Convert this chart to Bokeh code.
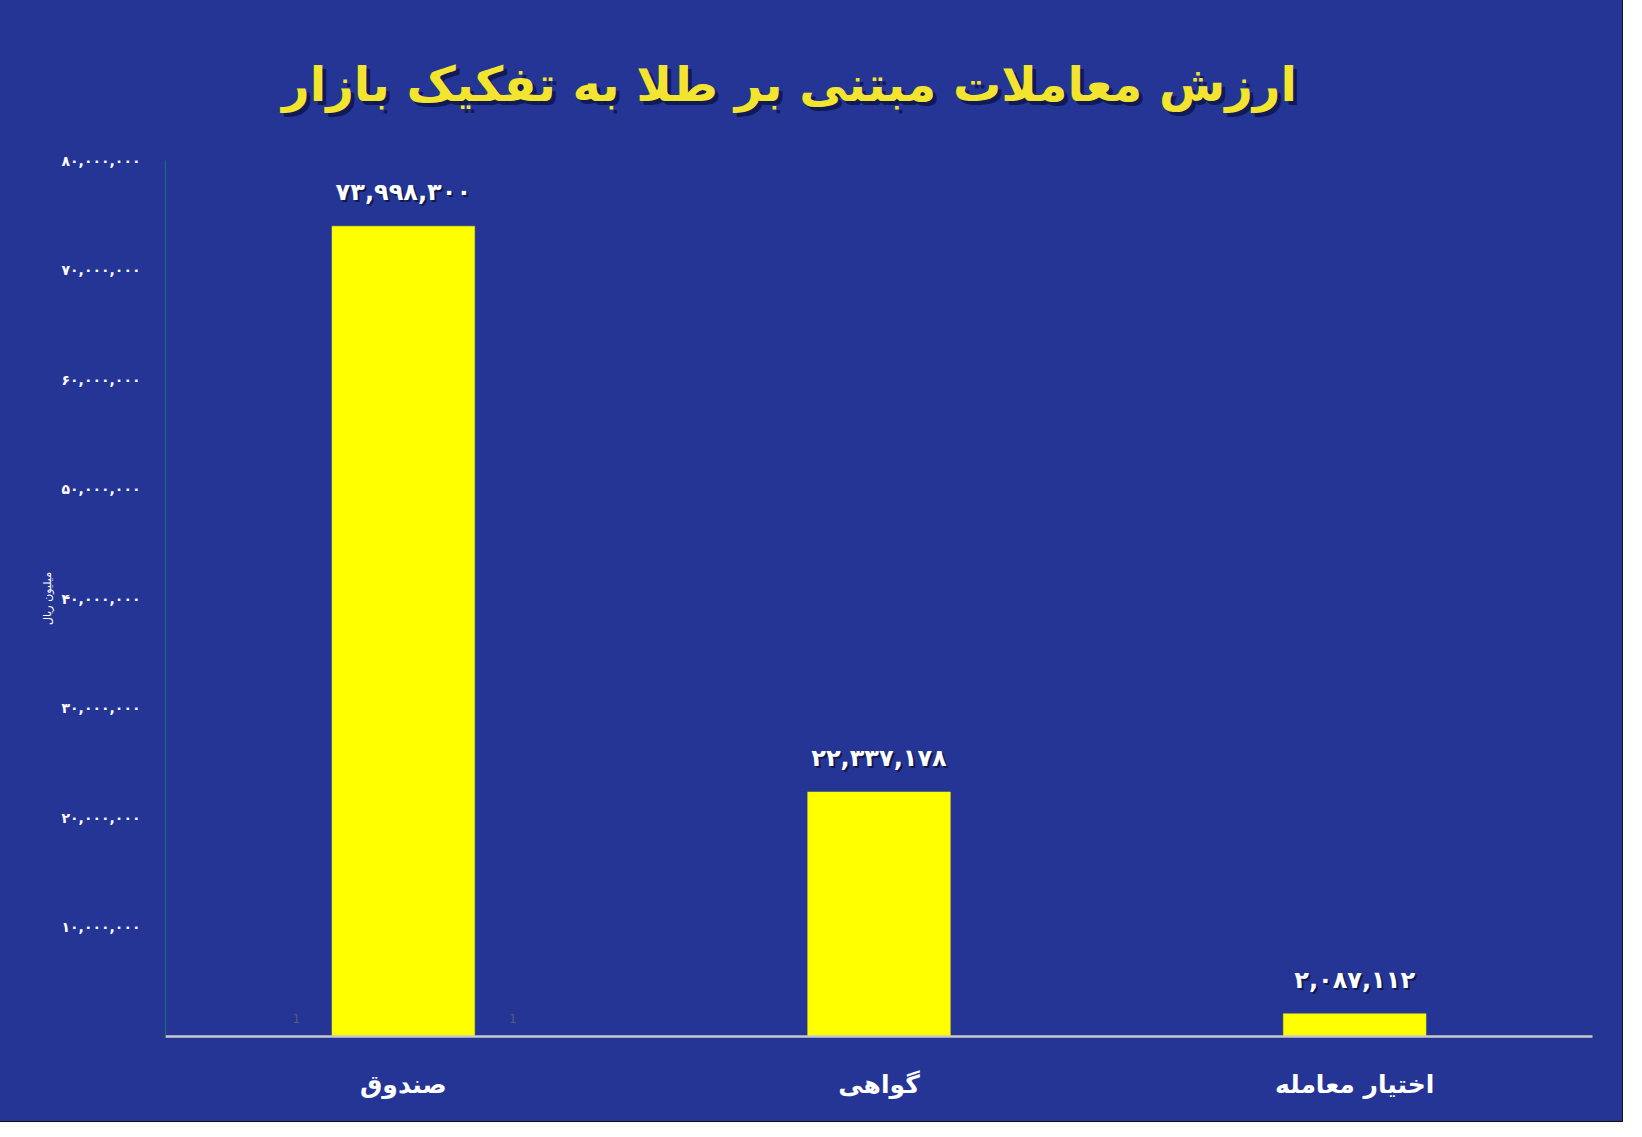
from bokeh.plotting import figure
from bokeh.models import FixedTicker, Range1d, Label, ColumnDataSource
from bokeh.layouts import column
from bokeh.core.properties import value
from bokeh.embed import file_html
from bokeh.resources import INLINE

# ---- data ----
categories = ["صندوق", "گواهی", "اختیار معامله"]
values = [73998300, 22337178, 2087112]
tick_values = [10000000, 20000000, 30000000, 40000000, 50000000, 60000000, 70000000, 80000000]
tick_labels = ["۱۰,۰۰۰,۰۰۰", "۲۰,۰۰۰,۰۰۰", "۳۰,۰۰۰,۰۰۰", "۴۰,۰۰۰,۰۰۰",
               "۵۰,۰۰۰,۰۰۰", "۶۰,۰۰۰,۰۰۰", "۷۰,۰۰۰,۰۰۰", "۸۰,۰۰۰,۰۰۰"]
title_text = "ارزش معاملات مبتنی بر طلا به تفکیک بازار"
y_axis_title = "میلیون ریال"
y_max = 80000000

FA = str.maketrans("0123456789", "۰۱۲۳۴۵۶۷۸۹")
def fa(n):
    return f"{n:,}".translate(FA)

BG = "#253596"
FONT = "DejaVu Sans"

W, H = 1622, 1121
TH = 150                     # height of the title strip
ML, MR, MT, MB = 165, 30, 10, 85
FW, FH = W - ML - MR, H - TH - MT - MB
upp = y_max / FH             # data units per pixel (y)

def clear(fig):
    fig.title.text = ""
    fig.outline_line_color = None
    fig.background_fill_color = None
    fig.border_fill_color = None
    fig.grid.visible = False

# ---- title strip ----
t = figure(width=W, height=TH, x_range=Range1d(0, FW), y_range=Range1d(0, TH),
           output_backend="svg", toolbar_location=None,
           min_border_left=ML, min_border_right=MR, min_border_top=0, min_border_bottom=0)
clear(t)
t.axis.visible = False
tx, ty = 797 - 8 - ML, TH - 83
t.add_layout(Label(x=tx + 4, y=ty - 4, text=title_text, text_align="center", text_baseline="middle",
                   text_font=FONT, text_font_style="bold", text_font_size="48px", text_color="#0a1240", text_alpha=0.75))
t.add_layout(Label(x=tx, y=ty, text=title_text, text_align="center", text_baseline="middle",
                   text_font=FONT, text_font_style="bold", text_font_size="48px", text_color="#F3E52F"))

# ---- main chart ----
p = figure(x_range=categories, y_range=Range1d(0, y_max),
           width=W, height=H - TH, output_backend="svg", toolbar_location=None,
           min_border_left=ML, min_border_right=MR, min_border_top=MT, min_border_bottom=MB)
clear(p)

src = ColumnDataSource(dict(
    cat=categories, val=values,
    lab=[fa(v) for v in values],
    ly=[v + 34 * upp for v in values],
    lys=[v + 34 * upp - 2 * upp for v in values],
))

p.vbar(x="cat", top="val", width=0.30, source=src, fill_color="#FFFF00", line_color="#E8E800", line_width=0.5)

# value labels with shadow
p.text(x="cat", y="lys", text="lab", source=src, x_offset=2, text_align="center", text_baseline="middle",
       text_font=value(FONT), text_font_style="bold", text_font_size="24px", text_color="#0d1540", text_alpha=0.85)
p.text(x="cat", y="ly", text="lab", source=src, text_align="center", text_baseline="middle",
       text_font=value(FONT), text_font_style="bold", text_font_size="24px", text_color="#FFFFFF")

# y axis
ya = p.yaxis[0]
ya.ticker = FixedTicker(ticks=tick_values)
ya.major_label_overrides = {t_: l for t_, l in zip(tick_values, tick_labels)}
ya.major_tick_line_color = None
ya.minor_tick_line_color = None
ya.major_label_standoff = 19
ya.major_label_text_color = "#FFFFFF"
ya.major_label_text_font = FONT
ya.major_label_text_font_style = "bold"
ya.major_label_text_font_size = "14px"
ya.axis_line_color = "#1E6E78"
ya.axis_line_width = 1
ya.axis_label = y_axis_title
ya.axis_label_text_font = FONT
ya.axis_label_text_font_style = "normal"
ya.axis_label_text_font_size = "11px"
ya.axis_label_text_color = "#FFFFFF"
ya.axis_label_standoff = 5

# x axis
xa = p.xaxis[0]
xa.major_tick_line_color = None
xa.minor_tick_line_color = None
xa.axis_line_color = "#C8C8C8"
xa.axis_line_width = 2.5
xa.major_label_standoff = 27
xa.major_label_text_color = "#FFFFFF"
xa.major_label_text_font = FONT
xa.major_label_text_font_style = "bold"
xa.major_label_text_font_size = "25px"

# faint stray "1" marks seen in the reference
for sx in (0.275, 0.73):
    p.add_layout(Label(x=sx, y=18 * upp, text="1", text_align="center", text_baseline="middle",
                       text_font=FONT, text_font_size="12px", text_color="#55597a"))

layout = column(t, p, spacing=0, styles={"outline": "1px solid #111111", "background-color": BG})
open("out.html", "w").write(file_html(layout, INLINE))
